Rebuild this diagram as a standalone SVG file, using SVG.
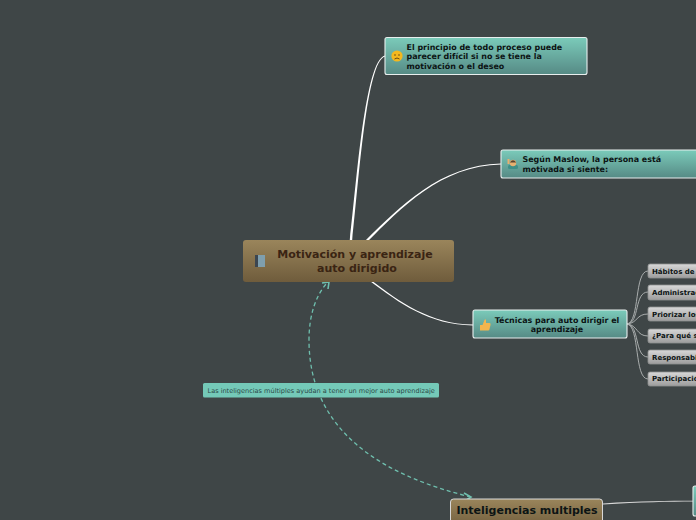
<svg xmlns="http://www.w3.org/2000/svg" width="696" height="520" viewBox="0 0 696 520">
<defs>
<linearGradient id="teal" x1="0" y1="0" x2="0" y2="1"><stop offset="0" stop-color="#7bcbba"/><stop offset="1" stop-color="#568a85"/></linearGradient>
<linearGradient id="brown" x1="0" y1="0" x2="0" y2="1"><stop offset="0" stop-color="#9a855b"/><stop offset="1" stop-color="#6f5c3c"/></linearGradient>
<linearGradient id="grey" x1="0" y1="0" x2="0" y2="1"><stop offset="0" stop-color="#d8d8d8"/><stop offset="1" stop-color="#9c9c9c"/></linearGradient>
</defs>
<style>
text{font-family:"DejaVu Sans",sans-serif;font-weight:bold;fill:#0c1414}
.t{font-size:7.950px}
.s{font-size:7px}
.n{fill:url(#teal);stroke:#e8eeee;stroke-width:1.1}
.g{fill:url(#grey);stroke:#8f9292;stroke-width:.8}
.c{fill:#fff;stroke:none}
.b{fill:none;stroke:#a9adad;stroke-width:1}
</style>
<rect width="696" height="520" fill="#3f4647"/>
<g id="connectors">
<path class="c" d="M349.800 240C357 180 365 60 385 55.600L385 56.400C366.500 61 359 180 352.200 240Z"/>
<path class="c" d="M365.500 240.500C400 207 440 165 501 163.600L501 164.400C441 165.500 401 208 367 242Z"/>
<path class="c" d="M371.500 280.500C400 302 430 324 473 324.600L473 325.400C429 325 399.500 303 370.500 281.500Z"/>
<path d="M603 503.500C640 501 670 500.800 693 500.800L693 501.400C670 501.500 640 502 603 504.500Z" fill="#d8d8d8"/>
<path class="b" d="M627 324C640 322 634 271 648 271"/>
<path class="b" d="M627 324C640 323 634 292 648 292"/>
<path class="b" d="M627 324C638 323 636 314 648 314"/>
<path class="b" d="M627 324C638 325 636 336 648 336"/>
<path class="b" d="M627 324C640 325 634 357 648 357"/>
<path class="b" d="M627 324C640 326 634 379 648 379"/>
<path fill="none" stroke="#6fbfae" stroke-width="1.300" stroke-dasharray="4 3" d="M471 497C380 475 309 430 309 340C309 315 316 295 327 283"/>
<path fill="none" stroke="#6fbfae" stroke-width="1.600" d="M322 283L329 282L328 289M464 493L471 497L465 501"/>
</g>
<g id="central">
<rect x="243" y="240" width="211" height="42" rx="3" fill="url(#brown)"/>
<rect x="255" y="255" width="10" height="12" fill="#7f9fae"/><rect x="255" y="255" width="3" height="12" fill="#3c4650"/>
<text x="355" y="258" text-anchor="middle" style="font-size:11px;fill:#3a2413">Motivación y aprendizaje</text>
<text x="357" y="272" text-anchor="middle" style="font-size:11px;fill:#3a2413">auto dirigido</text>
</g>
<g id="node-principio">
<rect class="n" x="385" y="37.500" width="202" height="37" rx="2"/>
<circle cx="397" cy="56" r="5.600" fill="#f4b81e"/><circle cx="395" cy="55" r=".8" fill="#6b4a10"/><circle cx="399" cy="55" r=".8" fill="#6b4a10"/><path d="M394.500 59Q397 57 399.500 59" fill="none" stroke="#6b4a10"/>
<text class="t" x="406.500" y="50">El principio de todo proceso puede</text>
<text class="t" x="406.500" y="59">parecer difícil si no se tiene la</text>
<text class="t" x="406.500" y="69">motivación o el deseo</text>
</g>
<g id="node-maslow">
<rect class="n" x="501" y="150" width="200" height="28" rx="2"/>
<rect x="508" y="165" width="10" height="4" rx="1.500" fill="#3f8f88"/><circle cx="513" cy="163" r="3.200" fill="#e8b070"/><path d="M509.800 162.500Q513 158 516.200 162.500Z" fill="#5a4632"/><rect x="507.500" y="159" width="2" height="5" fill="#e8b070"/>
<text class="t" x="522.500" y="162">Según Maslow, la persona está</text>
<text class="t" x="522.500" y="172">motivada si siente:</text>
</g>
<g id="node-tecnicas">
<rect class="n" x="473" y="310" width="154" height="28" rx="2"/>
<path d="M480 325h2.500l2-5q1-1.500 1.500 0v3h3.500q1.500 0 1 2l-1 4q0 1.500-1.500 1.500h-8z" fill="#f3b54d"/>
<text class="t" x="557" y="323" text-anchor="middle">Técnicas para auto dirigir el</text>
<text class="t" x="557" y="332" text-anchor="middle">aprendizaje</text>
</g>
<g id="node-habitos"><rect class="g" x="648" y="264" width="60" height="14" rx="2"/><text class="s" x="652" y="273.500">Hábitos de</text></g>
<g id="node-administracion"><rect class="g" x="648" y="285" width="60" height="15" rx="2"/><text class="s" x="652" y="295">Administrac</text></g>
<g id="node-priorizar"><rect class="g" x="648" y="307" width="60" height="14" rx="2"/><text class="s" x="652" y="316.500">Priorizar los</text></g>
<g id="node-para"><rect class="g" x="648" y="329" width="60" height="14" rx="2"/><text class="s" x="652" y="338">¿Para qué s</text></g>
<g id="node-responsable"><rect class="g" x="648" y="350" width="60" height="14" rx="2"/><text class="s" x="652" y="359.500">Responsabil</text></g>
<g id="node-participacion"><rect class="g" x="648" y="372" width="60" height="14" rx="2"/><text class="s" x="652" y="381">Participació</text></g>
<g id="label-inteligencias">
<rect x="203" y="383" width="236" height="14.500" rx="1.500" fill="#74c9b8"/>
<text x="207.500" y="392.500" style="font-size:6.550px;font-weight:normal;fill:#2c4a48">Las inteligencias múltiples ayudan a tener un mejor auto aprendizaje</text>
</g>
<g id="node-inteligencias">
<rect x="450.500" y="499" width="152" height="30" rx="3" fill="url(#brown)" stroke="#d8d8d8"/>
<text x="527" y="514" text-anchor="middle" style="font-size:11px">Inteligencias multiples</text>
</g>
<g id="node-edge"><rect class="n" x="693" y="486" width="12" height="30" rx="2"/></g>
</svg>
